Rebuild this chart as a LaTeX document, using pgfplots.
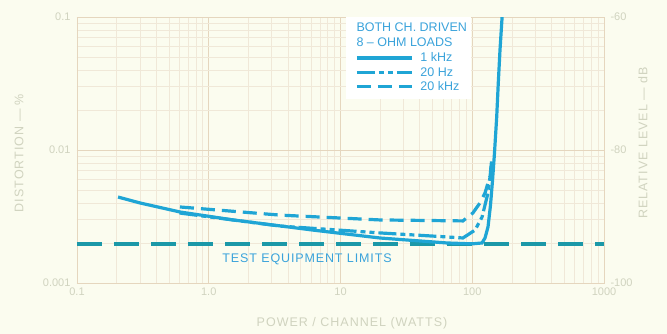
\documentclass[border=0pt]{standalone}
\usepackage{pgfplots}
\pgfplotsset{compat=1.18}
\usepackage{fontspec}
\setmainfont{Liberation Sans}
\definecolor{bg}{HTML}{FBFCEF}
\definecolor{gmin}{HTML}{F0E8D8}
\definecolor{gmaj}{HTML}{E5D6BE}
\definecolor{curve}{HTML}{1FA5D5}
\definecolor{limit}{HTML}{1B98A8}
\definecolor{lbl}{HTML}{D0D3BF}
\definecolor{legtext}{HTML}{3AA3DB}
\begin{document}
\begin{tikzpicture}[x=1pt,y=1pt]
\fill[bg] (0,0) rectangle (667,334);
\begin{axis}[at={(77pt,51pt)}, anchor=south west, scale only axis,
  width=527pt, height=266pt,
  xmode=log, ymode=log, xmin=0.1, xmax=1000, ymin=0.001, ymax=0.1,
  xtick={0.1,1,10,100,1000},
  xticklabels={\mbox{0.1},\mbox{1.0},\mbox{10},\mbox{100},\mbox{1000}},
  ytick={0.001,0.01,0.1},
  yticklabels={\mbox{0.001},\mbox{0.01},\mbox{0.1}},
  grid=both,
  major grid style={draw=gmaj, line width=0.9pt},
  minor grid style={draw=gmin, line width=0.7pt},
  axis line style={draw=gmaj},
  major tick style={draw=none}, minor tick style={draw=none},
  ticklabel style={font=\fontsize{11}{11}\selectfont, text=lbl},
  xticklabel style={yshift=-1pt},
  yticklabel style={xshift=-3pt},
  legend style={at={(rel axis cs:0.5275,0.874)}, anchor=north west, draw=none, fill=none,
    font=\fontsize{12.5}{13}\selectfont, text=legtext, row sep=0pt, inner sep=0pt,
    /tikz/every odd column/.append style={column sep=5pt}},
  legend cell align=left,
  legend image code/.code={\draw[#1] (0pt,0pt) -- (55pt,0pt);},
]
\fill[white] (rel axis cs:0.51,0.69) rectangle (rel axis cs:0.748,1);
\addplot[limit, line width=4pt, dash pattern=on 25pt off 12pt, forget plot]
  coordinates {(0.1,0.00196) (1000,0.00196)};
\addplot[curve, line width=3.2pt] coordinates {
(0.205,0.00443) (0.3,0.0040) (0.605,0.00342) (1.53,0.00298) (6.18,0.00250)
(19.9,0.00218) (64.3,0.00200) (100,0.00197) (118.6,0.00200) (125,0.00218)
(131.7,0.00264) (137.6,0.00386) (142.5,0.0059) (147.5,0.0095) (153.3,0.0177)
(157.6,0.0319) (162.4,0.0565) (168.5,0.1)};
\addlegendentry{1 kHz}
\addplot[curve, line width=3.2pt, dash pattern=on 18pt off 4pt on 5pt off 4pt on 5pt off 4pt] coordinates {
(0.6,0.00336) (3.47,0.00268) (19.9,0.00238) (64.3,0.00222) (85,0.00218)
(105,0.00250) (118.6,0.00313) (125,0.00386) (131.6,0.00475) (136.4,0.00627) (140,0.0082)};
\addlegendentry{20 Hz}
\addplot[curve, line width=3.2pt, dash pattern=on 14pt off 7pt] coordinates {
(0.605,0.00373) (3.47,0.00324) (19.9,0.00298) (85,0.00293) (101,0.00336)
(114.5,0.0040) (125,0.00475) (131.6,0.00565) (136.4,0.00627) (139,0.0075)};
\addlegendentry{20 kHz}
\end{axis}
\begin{axis}[at={(77pt,51pt)}, anchor=south west, scale only axis,
  width=527pt, height=266pt,
  xmin=0, xmax=1, ymin=-100, ymax=-60,
  hide x axis, axis y line*=right, y axis line style={draw=none},
  ytick={-100,-80,-60},
  yticklabels={\mbox{-100},\mbox{-80},\mbox{-60}},
  major tick style={draw=none},
  ticklabel style={font=\fontsize{11}{11}\selectfont, text=lbl},
  yticklabel style={xshift=3pt},
]
\addplot[draw=none] coordinates {(0,-100) (1,-60)};
\end{axis}
\node[text=legtext, anchor=west, font=\fontsize{12.5}{12.5}\selectfont] at (353,307) {BOTH CH. DRIVEN};
\node[text=legtext, anchor=west, font=\fontsize{12.5}{12.5}\selectfont] at (353,292) {8 -- OHM LOADS};
\node[text=legtext, font=\fontsize{12.5}{12.5}\selectfont\addfontfeature{LetterSpace=7}] at (307,75) {TEST EQUIPMENT LIMITS};
\node[text=lbl, font=\fontsize{12.5}{12.5}\selectfont\addfontfeature{LetterSpace=8}] at (352,11) {POWER / CHANNEL (WATTS)};
\node[text=lbl, rotate=90, font=\fontsize{12.5}{12.5}\selectfont\addfontfeature{LetterSpace=8}] at (19,181) {DISTORTION --- \%};
\node[text=lbl, rotate=90, font=\fontsize{12.5}{12.5}\selectfont\addfontfeature{LetterSpace=8}] at (643,191) {RELATIVE LEVEL --- dB};
\end{tikzpicture}
\end{document}
